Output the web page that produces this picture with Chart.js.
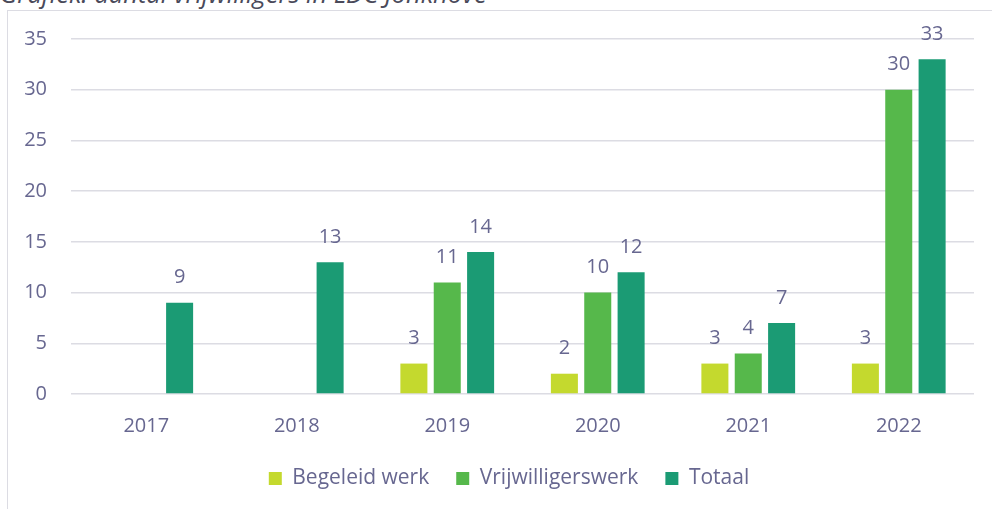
<!DOCTYPE html>
<html>
<head>
<meta charset="utf-8">
<script src="https://cdn.jsdelivr.net/npm/chart.js@4"></script>
<style>
    body { margin: 0; background: #fff; overflow: hidden; }
    #title {
        position: absolute; left: 0; top: -24px; line-height: 34px;
        font: italic 25.5px "Open Sans", sans-serif; color: #4a4a5a;
        white-space: nowrap;
    }
    #frame {
        position: absolute; left: 7px; top: 10px; width: 985px; height: 499px;
        border-left: 1px solid #dcdce3; border-top: 1px solid #dcdce3;
    }
    #chart { position: absolute; left: 8px; top: 3px; }
</style>
</head>
<body>
<div id="title">Grafiek: aantal vrijwilligers in LDC Jonkhove</div>
<div id="frame"></div>
<canvas id="chart" width="984" height="506"></canvas>
<script>
const years = ['2017', '2018', '2019', '2020', '2021', '2022'];
const begeleidWerk = [null, null, 3, 2, 3, 3];
const vrijwilligerswerk = [null, null, 11, 10, 4, 30];
const totaal = [9, 13, 14, 12, 7, 33];
const yTicks = [0, 5, 10, 15, 20, 25, 30, 35];

const textColor = '#676790';
const font = { family: '"Open Sans", sans-serif', size: 20 };

// Draw the value above each bar
const barLabels = {
    id: 'barLabels',
    afterLayout(chart) {
        // legend sits a little right of the canvas centre
        chart.legend.left += 18;
        chart.legend.right += 18;
    },
    afterDatasetsDraw(chart) {
        const ctx = chart.ctx;
        ctx.save();
        ctx.font = `${font.size}px ${font.family}`;
        ctx.fillStyle = textColor;
        ctx.textAlign = 'center';
        ctx.textBaseline = 'bottom';
        chart.data.datasets.forEach((ds, i) => {
            chart.getDatasetMeta(i).data.forEach((bar, j) => {
                const v = ds.data[j];
                if (v === null) return;
                ctx.fillText(String(v), bar.x, bar.y - 15);
            });
        });
        ctx.restore();
    }
};

new Chart(document.getElementById('chart'), {
    type: 'bar',
    data: {
        labels: years,
        datasets: [
            { label: 'Begeleid werk', data: begeleidWerk, backgroundColor: '#c4d92e' },
            { label: 'Vrijwilligerswerk', data: vrijwilligerswerk, backgroundColor: '#56b84b' },
            { label: 'Totaal', data: totaal, backgroundColor: '#1b9b74' }
        ]
    },
    options: {
        responsive: false,
        animation: false,
        categoryPercentage: 0.665,
        barPercentage: 0.81,
        layout: { padding: { top: 17, right: 18, bottom: 10, left: 0 } },
        plugins: {
            legend: {
                position: 'bottom',
                labels: {
                    color: textColor,
                    font: { family: font.family, size: 21 },
                    boxWidth: 13,
                    boxHeight: 13,
                    padding: 27
                }
            },
            tooltip: { enabled: false }
        },
        scales: {
            x: {
                grid: { display: false },
                border: { display: false },
                afterFit: scale => { scale.height = 47; },
                ticks: { color: textColor, font: font, padding: 12 }
            },
            y: {
                min: 0,
                max: 35,
                afterBuildTicks: scale => {
                    scale.ticks = yTicks.map(v => ({ value: v }));
                },
                afterFit: scale => { scale.width = 63; },
                grid: { color: '#dcdce3', lineWidth: 1.5, drawTicks: false },
                border: { display: false },
                ticks: { color: textColor, font: font, padding: 24 }
            }
        }
    },
    plugins: [barLabels]
});
</script>
</body>
</html>
